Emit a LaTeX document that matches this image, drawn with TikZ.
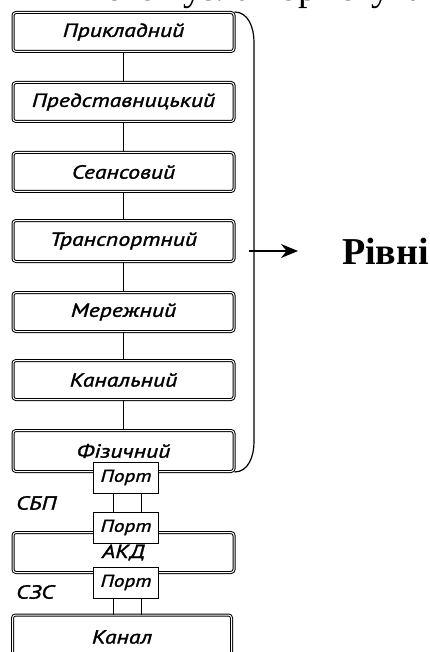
\documentclass[tikz,border=0pt]{standalone}
\usepackage{fontspec}
\setmainfont{Liberation Serif}
\newfontfamily\ptfont[FakeBold=1.5, FakeStretch=1.25]{PT Sans}
\usetikzlibrary{arrows.meta}
\tikzstyle{level} = [draw, double, line width=1pt, double distance=1pt, rounded corners=3pt, minimum width=221pt, minimum height=39pt, inner sep=0pt, font=\ptfont\itshape\fontsize{19}{21}\selectfont]
\tikzstyle{port} = [draw, fill=white, line width=1pt, minimum width=65pt, minimum height=31pt, inner sep=0pt, font=\ptfont\itshape\fontsize{17}{19}\selectfont]
\tikzstyle{side} = [anchor=west, inner sep=0pt, font=\ptfont\itshape\fontsize{19}{21}\selectfont]
\tikzstyle{link} = [line width=1pt]
\tikzstyle{arrow} = [line width=1.4pt, -{Stealth[length=17pt,width=14pt]}]

\begin{document}
\begin{tikzpicture}[x=1pt, y=-1pt]
        \useasboundingbox (0,0) rectangle (430,652);
        \clip (0,0) rectangle (430,652);

        % cut-off line of text above
        \node at (-4,1) [anchor=base west, inner sep=0pt, font=\fontsize{38}{40}\selectfont] (head) {ли іншого вузла користувача};

        % Levels
        \node at (123.5,32) [level] (prik) {Прикладний};
        \node at (123.5,102) [level] (pred) {Представницький};
        \node at (123.5,172) [level] (seans) {Сеансовий};
        \node at (123.5,241) [level, minimum height=41pt] (trans) {Транспортний};
        \node at (123.5,312) [level] (merezh) {Мережний};
        \node at (123.5,380) [level] (kanal) {Канальний};
        \node at (123.5,451) [level, minimum height=41pt] (fiz) {Фізичний};

        % links between levels
        \draw[link] (prik.south) -- (pred.north);
        \draw[link] (pred.south) -- (seans.north);
        \draw[link] (seans.south) -- (trans.north);
        \draw[link] (trans.south) -- (merezh.north);
        \draw[link] (merezh.south) -- (kanal.north);
        \draw[link] (kanal.south) -- (fiz.north);

        % AKD and channel
        \node at (123.5,552.5) [level, minimum height=40pt] (akd) {АКД};
        \node at (122,637) [level, minimum width=219pt, minimum height=44pt] (chan) {Канал};

        % Ports
        \node at (126,477.5) [port] (port1) {Порт};
        \node at (126,527.5) [port] (port2) {Порт};
        \node at (126,582.5) [port] (port3) {Порт};

        % SBP
        \draw[link] ([xshift=-13pt]port1.south) -- ([xshift=-13pt]port2.north);
        \draw[link] ([xshift=15pt]port1.south) -- ([xshift=15pt]port2.north);
        \node at (16,503) [side] (sbp) {СБП};

        % SZS
        \draw[link] ([xshift=-13pt]port3.south) -- ([xshift=-13pt]port3.south |- chan.north);
        \draw[link] ([xshift=15pt]port3.south) -- ([xshift=15pt]port3.south |- chan.north);
        \node at (16,592) [side] (szs) {СЗС};

        % Brace and levels label
        \coordinate (brtop) at (254,42);
        \coordinate (brbot) at (254,442);
        \draw[line width=1.2pt] (prik.north east) to[out=0,in=90] (brtop) -- (brbot) to[out=-90,in=0] (fiz.south east);
        \coordinate (arstart) at (249,251);
        \coordinate (arend) at (298,251);
        \draw[arrow] (arstart) -- (arend);
        \node at (342,251) [anchor=west, inner sep=0pt, font=\bfseries\fontsize{38}{40}\selectfont] (rivni) {Рівні};

\end{tikzpicture}
\end{document}
